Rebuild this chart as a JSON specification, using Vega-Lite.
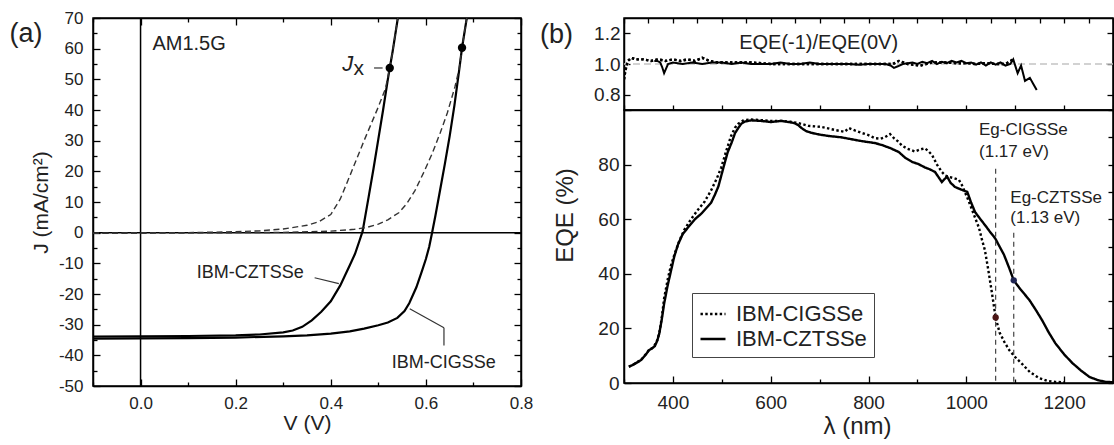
{
  "$schema": "https://vega.github.io/schema/vega-lite/v6.json",
  "background": "white",
  "padding": {"left": 8, "top": 8, "right": 1, "bottom": 1},
  "bounds": "flush",
  "spacing": 103,
  "config": {
    "font": "Liberation Sans",
    "view": {"stroke": "black", "strokeWidth": 1.5},
    "axis": {
      "grid": false, "domainColor": "black", "domainWidth": 1.5,
      "tickColor": "black", "tickWidth": 1.3,
      "labelColor": "#222222", "titleColor": "#222222", "titleFontWeight": "normal",
      "labelFont": "Liberation Sans", "titleFont": "Liberation Sans",
      "labelFlush": false, "labelOverlap": false
    },
    "legend": {"labelFont": "Liberation Sans", "labelColor": "#222222"},
    "text": {"font": "Liberation Sans", "color": "#222222"}
  },
  "datasets": {
    "jv": [
      {"cell": "CZTSSe", "mode": "light", "V": -0.1, "J": -33.9},
      {"cell": "CZTSSe", "mode": "light", "V": 0.0, "J": -33.8},
      {"cell": "CZTSSe", "mode": "light", "V": 0.1, "J": -33.7},
      {"cell": "CZTSSe", "mode": "light", "V": 0.2, "J": -33.5},
      {"cell": "CZTSSe", "mode": "light", "V": 0.25, "J": -33.2},
      {"cell": "CZTSSe", "mode": "light", "V": 0.3, "J": -32.5},
      {"cell": "CZTSSe", "mode": "light", "V": 0.32, "J": -31.9},
      {"cell": "CZTSSe", "mode": "light", "V": 0.34, "J": -30.7},
      {"cell": "CZTSSe", "mode": "light", "V": 0.36, "J": -28.6},
      {"cell": "CZTSSe", "mode": "light", "V": 0.38, "J": -25.8},
      {"cell": "CZTSSe", "mode": "light", "V": 0.4, "J": -22.4},
      {"cell": "CZTSSe", "mode": "light", "V": 0.42, "J": -17.2},
      {"cell": "CZTSSe", "mode": "light", "V": 0.44, "J": -10.6},
      {"cell": "CZTSSe", "mode": "light", "V": 0.451, "J": -6.9},
      {"cell": "CZTSSe", "mode": "light", "V": 0.46, "J": -2.8},
      {"cell": "CZTSSe", "mode": "light", "V": 0.467, "J": 0.5},
      {"cell": "CZTSSe", "mode": "light", "V": 0.48, "J": 12},
      {"cell": "CZTSSe", "mode": "light", "V": 0.49, "J": 21},
      {"cell": "CZTSSe", "mode": "light", "V": 0.5, "J": 30.5},
      {"cell": "CZTSSe", "mode": "light", "V": 0.51, "J": 40},
      {"cell": "CZTSSe", "mode": "light", "V": 0.52, "J": 50},
      {"cell": "CZTSSe", "mode": "light", "V": 0.524, "J": 53.7},
      {"cell": "CZTSSe", "mode": "light", "V": 0.53, "J": 59},
      {"cell": "CZTSSe", "mode": "light", "V": 0.541, "J": 70},
      {"cell": "CZTSSe", "mode": "dark", "V": -0.1, "J": -0.2},
      {"cell": "CZTSSe", "mode": "dark", "V": 0.0, "J": -0.1},
      {"cell": "CZTSSe", "mode": "dark", "V": 0.1, "J": 0},
      {"cell": "CZTSSe", "mode": "dark", "V": 0.2, "J": 0.3},
      {"cell": "CZTSSe", "mode": "dark", "V": 0.25, "J": 0.6},
      {"cell": "CZTSSe", "mode": "dark", "V": 0.3, "J": 1.2},
      {"cell": "CZTSSe", "mode": "dark", "V": 0.35, "J": 2.4},
      {"cell": "CZTSSe", "mode": "dark", "V": 0.375, "J": 3.6},
      {"cell": "CZTSSe", "mode": "dark", "V": 0.4, "J": 5.9},
      {"cell": "CZTSSe", "mode": "dark", "V": 0.42, "J": 11},
      {"cell": "CZTSSe", "mode": "dark", "V": 0.44, "J": 18.5},
      {"cell": "CZTSSe", "mode": "dark", "V": 0.47, "J": 30},
      {"cell": "CZTSSe", "mode": "dark", "V": 0.5, "J": 41},
      {"cell": "CZTSSe", "mode": "dark", "V": 0.515, "J": 47},
      {"cell": "CZTSSe", "mode": "dark", "V": 0.524, "J": 53.7},
      {"cell": "CZTSSe", "mode": "dark", "V": 0.53, "J": 59},
      {"cell": "CZTSSe", "mode": "dark", "V": 0.541, "J": 70},
      {"cell": "CIGSSe", "mode": "light", "V": -0.1, "J": -34.6},
      {"cell": "CIGSSe", "mode": "light", "V": 0.0, "J": -34.5},
      {"cell": "CIGSSe", "mode": "light", "V": 0.1, "J": -34.4},
      {"cell": "CIGSSe", "mode": "light", "V": 0.2, "J": -34.2},
      {"cell": "CIGSSe", "mode": "light", "V": 0.3, "J": -33.8},
      {"cell": "CIGSSe", "mode": "light", "V": 0.35, "J": -33.5},
      {"cell": "CIGSSe", "mode": "light", "V": 0.4, "J": -32.9},
      {"cell": "CIGSSe", "mode": "light", "V": 0.44, "J": -32.2},
      {"cell": "CIGSSe", "mode": "light", "V": 0.47, "J": -31.3},
      {"cell": "CIGSSe", "mode": "light", "V": 0.5, "J": -30.2},
      {"cell": "CIGSSe", "mode": "light", "V": 0.52, "J": -29.3},
      {"cell": "CIGSSe", "mode": "light", "V": 0.54, "J": -27.8},
      {"cell": "CIGSSe", "mode": "light", "V": 0.555, "J": -25.6},
      {"cell": "CIGSSe", "mode": "light", "V": 0.565, "J": -23},
      {"cell": "CIGSSe", "mode": "light", "V": 0.58, "J": -17.8},
      {"cell": "CIGSSe", "mode": "light", "V": 0.592, "J": -12.4},
      {"cell": "CIGSSe", "mode": "light", "V": 0.6, "J": -8.6},
      {"cell": "CIGSSe", "mode": "light", "V": 0.607, "J": -4.6},
      {"cell": "CIGSSe", "mode": "light", "V": 0.613, "J": 0},
      {"cell": "CIGSSe", "mode": "light", "V": 0.62, "J": 5.5},
      {"cell": "CIGSSe", "mode": "light", "V": 0.63, "J": 14},
      {"cell": "CIGSSe", "mode": "light", "V": 0.64, "J": 22.5},
      {"cell": "CIGSSe", "mode": "light", "V": 0.65, "J": 31.5},
      {"cell": "CIGSSe", "mode": "light", "V": 0.66, "J": 41.5},
      {"cell": "CIGSSe", "mode": "light", "V": 0.67, "J": 53},
      {"cell": "CIGSSe", "mode": "light", "V": 0.676, "J": 60.3},
      {"cell": "CIGSSe", "mode": "light", "V": 0.686, "J": 70},
      {"cell": "CIGSSe", "mode": "dark", "V": -0.1, "J": -0.2},
      {"cell": "CIGSSe", "mode": "dark", "V": 0.0, "J": -0.1},
      {"cell": "CIGSSe", "mode": "dark", "V": 0.2, "J": 0},
      {"cell": "CIGSSe", "mode": "dark", "V": 0.3, "J": 0.1},
      {"cell": "CIGSSe", "mode": "dark", "V": 0.4, "J": 0.5},
      {"cell": "CIGSSe", "mode": "dark", "V": 0.45, "J": 1.1},
      {"cell": "CIGSSe", "mode": "dark", "V": 0.475, "J": 1.7},
      {"cell": "CIGSSe", "mode": "dark", "V": 0.5, "J": 2.8},
      {"cell": "CIGSSe", "mode": "dark", "V": 0.52, "J": 4.2},
      {"cell": "CIGSSe", "mode": "dark", "V": 0.543, "J": 6.5},
      {"cell": "CIGSSe", "mode": "dark", "V": 0.56, "J": 9.5},
      {"cell": "CIGSSe", "mode": "dark", "V": 0.577, "J": 13.7},
      {"cell": "CIGSSe", "mode": "dark", "V": 0.595, "J": 19.5},
      {"cell": "CIGSSe", "mode": "dark", "V": 0.613, "J": 25.7},
      {"cell": "CIGSSe", "mode": "dark", "V": 0.63, "J": 32.5},
      {"cell": "CIGSSe", "mode": "dark", "V": 0.645, "J": 39},
      {"cell": "CIGSSe", "mode": "dark", "V": 0.661, "J": 47.5},
      {"cell": "CIGSSe", "mode": "dark", "V": 0.67, "J": 53.5},
      {"cell": "CIGSSe", "mode": "dark", "V": 0.676, "J": 60.3},
      {"cell": "CIGSSe", "mode": "dark", "V": 0.686, "J": 70}
    ],
    "zeroV": [{"V": 0}],
    "zeroJ": [{"J": 0}],
    "leaders": [
      {"V": 0.366, "J": -14.7, "V2": 0.417, "J2": -16.6},
      {"V": 0.566, "J": -24.8, "V2": 0.638, "J2": -31.0},
      {"V": 0.638, "J": -31.0, "V2": 0.638, "J2": -36.8},
      {"V": 0.491, "J": 53.7, "V2": 0.509, "J2": 53.7}
    ],
    "jx": [
      {"V": 0.524, "J": 53.7},
      {"V": 0.676, "J": 60.3}
    ],
    "panelA": [{"V": -0.1, "J": 70, "label": "(a)"}],
    "am": [{"V": 0.025, "J": 61.5, "label": "AM1.5G"}],
    "jxJ": [{"V": 0.447, "J": 52.8, "label": "J"}],
    "jxSub": [{"V": 0.448, "J": 51.5, "label": "x"}],
    "jvText": [
      {"V": 0.118, "J": -13.0, "label": "IBM-CZTSSe"},
      {"V": 0.528, "J": -42.5, "label": "IBM-CIGSSe"}
    ],
    "unity": [{"ratio": 1.0}],
    "panelB": [{"lambda": 300, "ratio": 1.3, "label": "(b)"}],
    "ratio": [
      {"cell": "IBM-CIGSSe", "lambda": 300, "ratio": 0.9},
      {"cell": "IBM-CIGSSe", "lambda": 303, "ratio": 0.96},
      {"cell": "IBM-CIGSSe", "lambda": 308, "ratio": 1.02},
      {"cell": "IBM-CIGSSe", "lambda": 315, "ratio": 1.04},
      {"cell": "IBM-CIGSSe", "lambda": 325, "ratio": 1.03},
      {"cell": "IBM-CIGSSe", "lambda": 340, "ratio": 1.03},
      {"cell": "IBM-CIGSSe", "lambda": 355, "ratio": 1.02},
      {"cell": "IBM-CIGSSe", "lambda": 370, "ratio": 1.03},
      {"cell": "IBM-CIGSSe", "lambda": 385, "ratio": 1.02},
      {"cell": "IBM-CIGSSe", "lambda": 400, "ratio": 1.03},
      {"cell": "IBM-CIGSSe", "lambda": 415, "ratio": 1.02},
      {"cell": "IBM-CIGSSe", "lambda": 430, "ratio": 1.03},
      {"cell": "IBM-CIGSSe", "lambda": 445, "ratio": 1.02},
      {"cell": "IBM-CIGSSe", "lambda": 460, "ratio": 1.04},
      {"cell": "IBM-CIGSSe", "lambda": 475, "ratio": 1.02},
      {"cell": "IBM-CIGSSe", "lambda": 490, "ratio": 1.01},
      {"cell": "IBM-CIGSSe", "lambda": 520, "ratio": 1.01},
      {"cell": "IBM-CIGSSe", "lambda": 560, "ratio": 1.01},
      {"cell": "IBM-CIGSSe", "lambda": 600, "ratio": 1.0},
      {"cell": "IBM-CIGSSe", "lambda": 650, "ratio": 1.0},
      {"cell": "IBM-CIGSSe", "lambda": 700, "ratio": 1.0},
      {"cell": "IBM-CIGSSe", "lambda": 750, "ratio": 1.0},
      {"cell": "IBM-CIGSSe", "lambda": 800, "ratio": 1.0},
      {"cell": "IBM-CIGSSe", "lambda": 850, "ratio": 1.0},
      {"cell": "IBM-CIGSSe", "lambda": 862, "ratio": 1.02},
      {"cell": "IBM-CIGSSe", "lambda": 880, "ratio": 1.0},
      {"cell": "IBM-CIGSSe", "lambda": 906, "ratio": 0.99},
      {"cell": "IBM-CIGSSe", "lambda": 930, "ratio": 1.01},
      {"cell": "IBM-CIGSSe", "lambda": 960, "ratio": 1.01},
      {"cell": "IBM-CIGSSe", "lambda": 980, "ratio": 1.005},
      {"cell": "IBM-CIGSSe", "lambda": 1000, "ratio": 1.005},
      {"cell": "IBM-CIGSSe", "lambda": 1020, "ratio": 1.0},
      {"cell": "IBM-CIGSSe", "lambda": 1040, "ratio": 1.005},
      {"cell": "IBM-CIGSSe", "lambda": 1060, "ratio": 1.0},
      {"cell": "IBM-CIGSSe", "lambda": 1080, "ratio": 1.0},
      {"cell": "IBM-CIGSSe", "lambda": 1096, "ratio": 1.03},
      {"cell": "IBM-CZTSSe", "lambda": 362, "ratio": 1.02},
      {"cell": "IBM-CZTSSe", "lambda": 368, "ratio": 1.02},
      {"cell": "IBM-CZTSSe", "lambda": 374, "ratio": 1.01},
      {"cell": "IBM-CZTSSe", "lambda": 378, "ratio": 0.98},
      {"cell": "IBM-CZTSSe", "lambda": 382, "ratio": 0.94},
      {"cell": "IBM-CZTSSe", "lambda": 386, "ratio": 0.97},
      {"cell": "IBM-CZTSSe", "lambda": 390, "ratio": 1.0},
      {"cell": "IBM-CZTSSe", "lambda": 400, "ratio": 1.01},
      {"cell": "IBM-CZTSSe", "lambda": 420, "ratio": 1.0},
      {"cell": "IBM-CZTSSe", "lambda": 440, "ratio": 1.01},
      {"cell": "IBM-CZTSSe", "lambda": 460, "ratio": 1.0},
      {"cell": "IBM-CZTSSe", "lambda": 480, "ratio": 1.01},
      {"cell": "IBM-CZTSSe", "lambda": 500, "ratio": 1.01},
      {"cell": "IBM-CZTSSe", "lambda": 520, "ratio": 1.0},
      {"cell": "IBM-CZTSSe", "lambda": 540, "ratio": 1.01},
      {"cell": "IBM-CZTSSe", "lambda": 560, "ratio": 1.0},
      {"cell": "IBM-CZTSSe", "lambda": 580, "ratio": 1.0},
      {"cell": "IBM-CZTSSe", "lambda": 600, "ratio": 1.0},
      {"cell": "IBM-CZTSSe", "lambda": 620, "ratio": 1.01},
      {"cell": "IBM-CZTSSe", "lambda": 640, "ratio": 1.0},
      {"cell": "IBM-CZTSSe", "lambda": 660, "ratio": 1.0},
      {"cell": "IBM-CZTSSe", "lambda": 680, "ratio": 1.01},
      {"cell": "IBM-CZTSSe", "lambda": 700, "ratio": 1.0},
      {"cell": "IBM-CZTSSe", "lambda": 720, "ratio": 1.0},
      {"cell": "IBM-CZTSSe", "lambda": 740, "ratio": 1.0},
      {"cell": "IBM-CZTSSe", "lambda": 760, "ratio": 1.0},
      {"cell": "IBM-CZTSSe", "lambda": 780, "ratio": 0.995},
      {"cell": "IBM-CZTSSe", "lambda": 800, "ratio": 1.0},
      {"cell": "IBM-CZTSSe", "lambda": 820, "ratio": 1.0},
      {"cell": "IBM-CZTSSe", "lambda": 835, "ratio": 1.0},
      {"cell": "IBM-CZTSSe", "lambda": 845, "ratio": 0.99},
      {"cell": "IBM-CZTSSe", "lambda": 852, "ratio": 0.975},
      {"cell": "IBM-CZTSSe", "lambda": 860, "ratio": 0.985},
      {"cell": "IBM-CZTSSe", "lambda": 870, "ratio": 1.0},
      {"cell": "IBM-CZTSSe", "lambda": 880, "ratio": 1.005},
      {"cell": "IBM-CZTSSe", "lambda": 890, "ratio": 1.01},
      {"cell": "IBM-CZTSSe", "lambda": 900, "ratio": 1.0},
      {"cell": "IBM-CZTSSe", "lambda": 910, "ratio": 1.015},
      {"cell": "IBM-CZTSSe", "lambda": 920, "ratio": 1.005},
      {"cell": "IBM-CZTSSe", "lambda": 930, "ratio": 1.02},
      {"cell": "IBM-CZTSSe", "lambda": 940, "ratio": 1.0},
      {"cell": "IBM-CZTSSe", "lambda": 950, "ratio": 1.015},
      {"cell": "IBM-CZTSSe", "lambda": 960, "ratio": 1.005},
      {"cell": "IBM-CZTSSe", "lambda": 970, "ratio": 1.02},
      {"cell": "IBM-CZTSSe", "lambda": 980, "ratio": 1.01},
      {"cell": "IBM-CZTSSe", "lambda": 990, "ratio": 1.02},
      {"cell": "IBM-CZTSSe", "lambda": 1000, "ratio": 1.005},
      {"cell": "IBM-CZTSSe", "lambda": 1010, "ratio": 1.01},
      {"cell": "IBM-CZTSSe", "lambda": 1020, "ratio": 0.995},
      {"cell": "IBM-CZTSSe", "lambda": 1030, "ratio": 1.01},
      {"cell": "IBM-CZTSSe", "lambda": 1040, "ratio": 0.99},
      {"cell": "IBM-CZTSSe", "lambda": 1050, "ratio": 1.01},
      {"cell": "IBM-CZTSSe", "lambda": 1060, "ratio": 0.995},
      {"cell": "IBM-CZTSSe", "lambda": 1070, "ratio": 1.01},
      {"cell": "IBM-CZTSSe", "lambda": 1080, "ratio": 0.99},
      {"cell": "IBM-CZTSSe", "lambda": 1090, "ratio": 1.0},
      {"cell": "IBM-CZTSSe", "lambda": 1096, "ratio": 1.03},
      {"cell": "IBM-CZTSSe", "lambda": 1105, "ratio": 0.94},
      {"cell": "IBM-CZTSSe", "lambda": 1112, "ratio": 0.99},
      {"cell": "IBM-CZTSSe", "lambda": 1120, "ratio": 0.89},
      {"cell": "IBM-CZTSSe", "lambda": 1130, "ratio": 0.91},
      {"cell": "IBM-CZTSSe", "lambda": 1137, "ratio": 0.87},
      {"cell": "IBM-CZTSSe", "lambda": 1144, "ratio": 0.83}
    ],
    "ratioText": [
      {"lambda": 698, "ratio": 1.137, "label": "EQE(-1)/EQE(0V)"}
    ],
    "eqe": [
      {"cell": "IBM-CIGSSe", "lambda": 310, "EQE": 6.0},
      {"cell": "IBM-CIGSSe", "lambda": 320, "EQE": 6.9},
      {"cell": "IBM-CIGSSe", "lambda": 335, "EQE": 8.5},
      {"cell": "IBM-CIGSSe", "lambda": 345, "EQE": 10.6},
      {"cell": "IBM-CIGSSe", "lambda": 351, "EQE": 12.1},
      {"cell": "IBM-CIGSSe", "lambda": 360, "EQE": 13},
      {"cell": "IBM-CIGSSe", "lambda": 368, "EQE": 15.6},
      {"cell": "IBM-CIGSSe", "lambda": 373, "EQE": 19},
      {"cell": "IBM-CIGSSe", "lambda": 378, "EQE": 25},
      {"cell": "IBM-CIGSSe", "lambda": 382, "EQE": 31},
      {"cell": "IBM-CIGSSe", "lambda": 390, "EQE": 38.5},
      {"cell": "IBM-CIGSSe", "lambda": 396, "EQE": 43},
      {"cell": "IBM-CIGSSe", "lambda": 403, "EQE": 47},
      {"cell": "IBM-CIGSSe", "lambda": 413, "EQE": 52},
      {"cell": "IBM-CIGSSe", "lambda": 423, "EQE": 56},
      {"cell": "IBM-CIGSSe", "lambda": 437, "EQE": 60},
      {"cell": "IBM-CIGSSe", "lambda": 451, "EQE": 63.4},
      {"cell": "IBM-CIGSSe", "lambda": 465, "EQE": 66.5},
      {"cell": "IBM-CIGSSe", "lambda": 478, "EQE": 70.5},
      {"cell": "IBM-CIGSSe", "lambda": 490, "EQE": 75},
      {"cell": "IBM-CIGSSe", "lambda": 499, "EQE": 79},
      {"cell": "IBM-CIGSSe", "lambda": 509, "EQE": 85},
      {"cell": "IBM-CIGSSe", "lambda": 519, "EQE": 90.5},
      {"cell": "IBM-CIGSSe", "lambda": 527, "EQE": 93.5},
      {"cell": "IBM-CIGSSe", "lambda": 534, "EQE": 95},
      {"cell": "IBM-CIGSSe", "lambda": 545, "EQE": 96.3},
      {"cell": "IBM-CIGSSe", "lambda": 560, "EQE": 96.5},
      {"cell": "IBM-CIGSSe", "lambda": 580, "EQE": 96.3},
      {"cell": "IBM-CIGSSe", "lambda": 600, "EQE": 96},
      {"cell": "IBM-CIGSSe", "lambda": 625, "EQE": 96},
      {"cell": "IBM-CIGSSe", "lambda": 640, "EQE": 95.7},
      {"cell": "IBM-CIGSSe", "lambda": 657, "EQE": 95.2},
      {"cell": "IBM-CIGSSe", "lambda": 677, "EQE": 94.2},
      {"cell": "IBM-CIGSSe", "lambda": 704, "EQE": 93.8},
      {"cell": "IBM-CIGSSe", "lambda": 731, "EQE": 92.7},
      {"cell": "IBM-CIGSSe", "lambda": 751, "EQE": 92},
      {"cell": "IBM-CIGSSe", "lambda": 760, "EQE": 93.4},
      {"cell": "IBM-CIGSSe", "lambda": 772, "EQE": 92.5},
      {"cell": "IBM-CIGSSe", "lambda": 786, "EQE": 91.6},
      {"cell": "IBM-CIGSSe", "lambda": 800, "EQE": 90.8},
      {"cell": "IBM-CIGSSe", "lambda": 813, "EQE": 89.7},
      {"cell": "IBM-CIGSSe", "lambda": 825, "EQE": 89.5},
      {"cell": "IBM-CIGSSe", "lambda": 833, "EQE": 90},
      {"cell": "IBM-CIGSSe", "lambda": 844, "EQE": 91.2},
      {"cell": "IBM-CIGSSe", "lambda": 853, "EQE": 89.5},
      {"cell": "IBM-CIGSSe", "lambda": 862, "EQE": 88.3},
      {"cell": "IBM-CIGSSe", "lambda": 868, "EQE": 87},
      {"cell": "IBM-CIGSSe", "lambda": 880, "EQE": 85.8},
      {"cell": "IBM-CIGSSe", "lambda": 895, "EQE": 84.8},
      {"cell": "IBM-CIGSSe", "lambda": 905, "EQE": 85.5},
      {"cell": "IBM-CIGSSe", "lambda": 915, "EQE": 86},
      {"cell": "IBM-CIGSSe", "lambda": 922, "EQE": 85},
      {"cell": "IBM-CIGSSe", "lambda": 930, "EQE": 83.5},
      {"cell": "IBM-CIGSSe", "lambda": 940, "EQE": 80},
      {"cell": "IBM-CIGSSe", "lambda": 950, "EQE": 77.3},
      {"cell": "IBM-CIGSSe", "lambda": 957, "EQE": 76},
      {"cell": "IBM-CIGSSe", "lambda": 964, "EQE": 75.5},
      {"cell": "IBM-CIGSSe", "lambda": 975, "EQE": 75},
      {"cell": "IBM-CIGSSe", "lambda": 985, "EQE": 74.4},
      {"cell": "IBM-CIGSSe", "lambda": 991, "EQE": 72.5},
      {"cell": "IBM-CIGSSe", "lambda": 997, "EQE": 70},
      {"cell": "IBM-CIGSSe", "lambda": 1003, "EQE": 67.5},
      {"cell": "IBM-CIGSSe", "lambda": 1008, "EQE": 65.2},
      {"cell": "IBM-CIGSSe", "lambda": 1017, "EQE": 61},
      {"cell": "IBM-CIGSSe", "lambda": 1026, "EQE": 56.8},
      {"cell": "IBM-CIGSSe", "lambda": 1032, "EQE": 52.5},
      {"cell": "IBM-CIGSSe", "lambda": 1038, "EQE": 48.7},
      {"cell": "IBM-CIGSSe", "lambda": 1045, "EQE": 41.4},
      {"cell": "IBM-CIGSSe", "lambda": 1052, "EQE": 33.5},
      {"cell": "IBM-CIGSSe", "lambda": 1060, "EQE": 24},
      {"cell": "IBM-CIGSSe", "lambda": 1068, "EQE": 18.5},
      {"cell": "IBM-CIGSSe", "lambda": 1078, "EQE": 15},
      {"cell": "IBM-CIGSSe", "lambda": 1088, "EQE": 12},
      {"cell": "IBM-CIGSSe", "lambda": 1100, "EQE": 9.5},
      {"cell": "IBM-CIGSSe", "lambda": 1114, "EQE": 7},
      {"cell": "IBM-CIGSSe", "lambda": 1130, "EQE": 4},
      {"cell": "IBM-CIGSSe", "lambda": 1149, "EQE": 1.8},
      {"cell": "IBM-CIGSSe", "lambda": 1165, "EQE": 0.8},
      {"cell": "IBM-CIGSSe", "lambda": 1182, "EQE": 0.4},
      {"cell": "IBM-CIGSSe", "lambda": 1200, "EQE": 0.3},
      {"cell": "IBM-CZTSSe", "lambda": 310, "EQE": 5.9},
      {"cell": "IBM-CZTSSe", "lambda": 320, "EQE": 6.8},
      {"cell": "IBM-CZTSSe", "lambda": 335, "EQE": 8.4},
      {"cell": "IBM-CZTSSe", "lambda": 345, "EQE": 10.5},
      {"cell": "IBM-CZTSSe", "lambda": 351, "EQE": 12},
      {"cell": "IBM-CZTSSe", "lambda": 358, "EQE": 12.8},
      {"cell": "IBM-CZTSSe", "lambda": 363, "EQE": 13.5},
      {"cell": "IBM-CZTSSe", "lambda": 368, "EQE": 15.5},
      {"cell": "IBM-CZTSSe", "lambda": 372, "EQE": 18},
      {"cell": "IBM-CZTSSe", "lambda": 377, "EQE": 23},
      {"cell": "IBM-CZTSSe", "lambda": 382, "EQE": 29},
      {"cell": "IBM-CZTSSe", "lambda": 389, "EQE": 35.5},
      {"cell": "IBM-CZTSSe", "lambda": 396, "EQE": 41},
      {"cell": "IBM-CZTSSe", "lambda": 403, "EQE": 46.5},
      {"cell": "IBM-CZTSSe", "lambda": 411, "EQE": 51},
      {"cell": "IBM-CZTSSe", "lambda": 420, "EQE": 54.5},
      {"cell": "IBM-CZTSSe", "lambda": 431, "EQE": 57},
      {"cell": "IBM-CZTSSe", "lambda": 445, "EQE": 60},
      {"cell": "IBM-CZTSSe", "lambda": 458, "EQE": 62},
      {"cell": "IBM-CZTSSe", "lambda": 468, "EQE": 64},
      {"cell": "IBM-CZTSSe", "lambda": 478, "EQE": 66},
      {"cell": "IBM-CZTSSe", "lambda": 486, "EQE": 69},
      {"cell": "IBM-CZTSSe", "lambda": 493, "EQE": 72},
      {"cell": "IBM-CZTSSe", "lambda": 499, "EQE": 76},
      {"cell": "IBM-CZTSSe", "lambda": 505, "EQE": 80},
      {"cell": "IBM-CZTSSe", "lambda": 512, "EQE": 84.5},
      {"cell": "IBM-CZTSSe", "lambda": 520, "EQE": 88},
      {"cell": "IBM-CZTSSe", "lambda": 527, "EQE": 91.5},
      {"cell": "IBM-CZTSSe", "lambda": 534, "EQE": 93.5},
      {"cell": "IBM-CZTSSe", "lambda": 540, "EQE": 95},
      {"cell": "IBM-CZTSSe", "lambda": 548, "EQE": 95.8},
      {"cell": "IBM-CZTSSe", "lambda": 560, "EQE": 96.2},
      {"cell": "IBM-CZTSSe", "lambda": 580, "EQE": 96},
      {"cell": "IBM-CZTSSe", "lambda": 600, "EQE": 95.6},
      {"cell": "IBM-CZTSSe", "lambda": 622, "EQE": 96},
      {"cell": "IBM-CZTSSe", "lambda": 640, "EQE": 95.5},
      {"cell": "IBM-CZTSSe", "lambda": 648, "EQE": 95.2},
      {"cell": "IBM-CZTSSe", "lambda": 656, "EQE": 94.5},
      {"cell": "IBM-CZTSSe", "lambda": 663, "EQE": 93.4},
      {"cell": "IBM-CZTSSe", "lambda": 672, "EQE": 92.3},
      {"cell": "IBM-CZTSSe", "lambda": 684, "EQE": 91.6},
      {"cell": "IBM-CZTSSe", "lambda": 700, "EQE": 91},
      {"cell": "IBM-CZTSSe", "lambda": 718, "EQE": 90.5},
      {"cell": "IBM-CZTSSe", "lambda": 744, "EQE": 90},
      {"cell": "IBM-CZTSSe", "lambda": 765, "EQE": 89.3},
      {"cell": "IBM-CZTSSe", "lambda": 786, "EQE": 88.6},
      {"cell": "IBM-CZTSSe", "lambda": 813, "EQE": 87.9},
      {"cell": "IBM-CZTSSe", "lambda": 827, "EQE": 87.2},
      {"cell": "IBM-CZTSSe", "lambda": 845, "EQE": 86},
      {"cell": "IBM-CZTSSe", "lambda": 862, "EQE": 84.6},
      {"cell": "IBM-CZTSSe", "lambda": 875, "EQE": 82.5},
      {"cell": "IBM-CZTSSe", "lambda": 889, "EQE": 81},
      {"cell": "IBM-CZTSSe", "lambda": 902, "EQE": 80.2},
      {"cell": "IBM-CZTSSe", "lambda": 915, "EQE": 79},
      {"cell": "IBM-CZTSSe", "lambda": 925, "EQE": 78.3},
      {"cell": "IBM-CZTSSe", "lambda": 936, "EQE": 77.3},
      {"cell": "IBM-CZTSSe", "lambda": 944, "EQE": 75.2},
      {"cell": "IBM-CZTSSe", "lambda": 950, "EQE": 73.6},
      {"cell": "IBM-CZTSSe", "lambda": 956, "EQE": 74.8},
      {"cell": "IBM-CZTSSe", "lambda": 961, "EQE": 75.5},
      {"cell": "IBM-CZTSSe", "lambda": 968, "EQE": 73.3},
      {"cell": "IBM-CZTSSe", "lambda": 977, "EQE": 71.8},
      {"cell": "IBM-CZTSSe", "lambda": 990, "EQE": 70.8},
      {"cell": "IBM-CZTSSe", "lambda": 1002, "EQE": 70},
      {"cell": "IBM-CZTSSe", "lambda": 1010, "EQE": 66},
      {"cell": "IBM-CZTSSe", "lambda": 1018, "EQE": 62.6},
      {"cell": "IBM-CZTSSe", "lambda": 1028, "EQE": 60.2},
      {"cell": "IBM-CZTSSe", "lambda": 1038, "EQE": 57.9},
      {"cell": "IBM-CZTSSe", "lambda": 1048, "EQE": 55.5},
      {"cell": "IBM-CZTSSe", "lambda": 1059, "EQE": 53},
      {"cell": "IBM-CZTSSe", "lambda": 1068, "EQE": 50},
      {"cell": "IBM-CZTSSe", "lambda": 1077, "EQE": 47},
      {"cell": "IBM-CZTSSe", "lambda": 1088, "EQE": 42},
      {"cell": "IBM-CZTSSe", "lambda": 1097, "EQE": 37.6},
      {"cell": "IBM-CZTSSe", "lambda": 1110, "EQE": 34.5},
      {"cell": "IBM-CZTSSe", "lambda": 1129, "EQE": 30.4},
      {"cell": "IBM-CZTSSe", "lambda": 1142, "EQE": 26.8},
      {"cell": "IBM-CZTSSe", "lambda": 1155, "EQE": 23},
      {"cell": "IBM-CZTSSe", "lambda": 1168, "EQE": 18.7},
      {"cell": "IBM-CZTSSe", "lambda": 1182, "EQE": 14.6},
      {"cell": "IBM-CZTSSe", "lambda": 1200, "EQE": 10.5},
      {"cell": "IBM-CZTSSe", "lambda": 1217, "EQE": 7.3},
      {"cell": "IBM-CZTSSe", "lambda": 1235, "EQE": 4.5},
      {"cell": "IBM-CZTSSe", "lambda": 1252, "EQE": 2.2},
      {"cell": "IBM-CZTSSe", "lambda": 1270, "EQE": 1.0},
      {"cell": "IBM-CZTSSe", "lambda": 1285, "EQE": 0.4},
      {"cell": "IBM-CZTSSe", "lambda": 1300, "EQE": 0.3}
    ],
    "eg": [
      {"cell": "IBM-CIGSSe", "lambda": 1060, "top": 78.5, "EQE": 24},
      {"cell": "IBM-CZTSSe", "lambda": 1097, "top": 55, "EQE": 37.6}
    ],
    "egText": [
      {"lambda": 1026, "EQE": 92.7, "label": "Eg-CIGSSe"},
      {"lambda": 1026, "EQE": 84.6, "label": "(1.17 eV)"},
      {"lambda": 1090, "EQE": 67.8, "label": "Eg-CZTSSe"},
      {"lambda": 1090, "EQE": 60.4, "label": "(1.13 eV)"}
    ]
  },
  "hconcat": [
    {
      "width": 428,
      "height": 368,
      "resolve": {"axis": {"x": "independent", "y": "independent"}},
      "layer": [
        {
          "data": {"name": "jv"},
          "transform": [{"filter": "datum.mode === 'light'"}],
          "mark": {"type": "line", "color": "black", "strokeWidth": 2.2, "clip": true},
          "encoding": {
            "x": {
              "field": "V", "type": "quantitative",
              "scale": {"domain": [-0.1, 0.8], "nice": false, "zero": false},
              "axis": {
                "orient": "bottom",
                "values": [-0.1, 0, 0.1, 0.2, 0.3, 0.4, 0.5, 0.6, 0.7, 0.8],
                "labelExpr": "round(datum.value*10) % 2 === 0 ? format(datum.value, '.1f') : ''",
                "tickSize": {"condition": {"test": "round(datum.value*10) % 2 === 0", "value": -7}, "value": -4},
                "labelFontSize": {"condition": {"test": "round(datum.value*10) % 2 === 0", "value": 17}, "value": 1},
                "labelPadding": 16, "labelOverlap": false,
                "title": "V (V)", "titleFontSize": 21, "titlePadding": 1
              }
            },
            "y": {
              "field": "J", "type": "quantitative",
              "scale": {"domain": [-50, 70], "nice": false, "zero": false},
              "axis": {
                "orient": "left",
                "values": [-50, -45, -40, -35, -30, -25, -20, -15, -10, -5, 0, 5, 10, 15, 20, 25, 30, 35, 40, 45, 50, 55, 60, 65, 70],
                "labelExpr": "datum.value % 10 === 0 ? '' + datum.value : ''",
                "tickSize": {"condition": {"test": "datum.value % 10 === 0", "value": -7}, "value": -4},
                "labelFontSize": {"condition": {"test": "datum.value % 10 === 0", "value": 17}, "value": 1},
                "labelPadding": 17, "labelOverlap": false,
                "title": "J (mA/cm²)", "titleFontSize": 21, "titlePadding": 7
              }
            },
            "detail": {"field": "cell"}
          }
        },
        {
          "data": {"name": "zeroV"},
          "mark": {"type": "rule", "color": "black", "strokeWidth": 1.5},
          "encoding": {"x": {"field": "V", "type": "quantitative", "axis": null}}
        },
        {
          "data": {"name": "zeroJ"},
          "mark": {"type": "rule", "color": "black", "strokeWidth": 1.5},
          "encoding": {"y": {"field": "J", "type": "quantitative", "axis": null}}
        },
        {
          "data": {"name": "jv"},
          "transform": [{"filter": "datum.mode === 'dark'"}],
          "mark": {"type": "line", "color": "#333333", "strokeWidth": 1.4, "strokeDash": [6, 3.5], "clip": true},
          "encoding": {
            "x": {"field": "V", "type": "quantitative", "axis": null},
            "y": {"field": "J", "type": "quantitative", "axis": null},
            "detail": {"field": "cell"}
          }
        },
        {
          "data": {"name": "leaders"},
          "mark": {"type": "rule", "color": "#333333", "strokeWidth": 1.2},
          "encoding": {
            "x": {"field": "V", "type": "quantitative", "axis": null},
            "y": {"field": "J", "type": "quantitative", "axis": null},
            "x2": {"field": "V2"},
            "y2": {"field": "J2"}
          }
        },
        {
          "data": {"name": "jx"},
          "mark": {"type": "point", "filled": true, "color": "black", "size": 70, "opacity": 1},
          "encoding": {
            "x": {"field": "V", "type": "quantitative", "axis": null},
            "y": {"field": "J", "type": "quantitative", "axis": null}
          }
        },
        {
          "data": {"name": "am"},
          "mark": {"type": "text", "fontSize": 20, "align": "left", "baseline": "middle", "color": "#222222"},
          "encoding": {
            "x": {"field": "V", "type": "quantitative", "axis": null},
            "y": {"field": "J", "type": "quantitative", "axis": null},
            "text": {"field": "label"}
          }
        },
        {
          "data": {"name": "jxJ"},
          "mark": {"type": "text", "fontSize": 22, "fontStyle": "italic", "align": "right", "baseline": "alphabetic", "color": "#222222"},
          "encoding": {
            "x": {"field": "V", "type": "quantitative", "axis": null},
            "y": {"field": "J", "type": "quantitative", "axis": null},
            "text": {"field": "label"}
          }
        },
        {
          "data": {"name": "jxSub"},
          "mark": {"type": "text", "fontSize": 21, "align": "left", "baseline": "alphabetic", "color": "#222222"},
          "encoding": {
            "x": {"field": "V", "type": "quantitative", "axis": null},
            "y": {"field": "J", "type": "quantitative", "axis": null},
            "text": {"field": "label"}
          }
        },
        {
          "data": {"name": "panelA"},
          "mark": {"type": "text", "fontSize": 27, "align": "center", "baseline": "middle", "dx": -67, "dy": 16, "color": "#222222"},
          "encoding": {
            "x": {"field": "V", "type": "quantitative", "axis": null},
            "y": {"field": "J", "type": "quantitative", "axis": null},
            "text": {"field": "label"}
          }
        },
        {
          "data": {"name": "jvText"},
          "mark": {"type": "text", "align": "left", "baseline": "middle", "fontSize": 18, "color": "#222222"},
          "encoding": {
            "x": {
              "field": "V", "type": "quantitative",
              "scale": {"domain": [-0.1, 0.8], "nice": false, "zero": false},
              "axis": {
                "orient": "top", "labels": false, "title": null,
                "values": [-0.1, 0, 0.1, 0.2, 0.3, 0.4, 0.5, 0.6, 0.7, 0.8],
                "tickSize": {"condition": {"test": "round(datum.value*10) % 2 === 0", "value": -7}, "value": -4}
              }
            },
            "y": {
              "field": "J", "type": "quantitative",
              "scale": {"domain": [-50, 70], "nice": false, "zero": false},
              "axis": {
                "orient": "right", "labels": false, "title": null,
                "values": [-50, -45, -40, -35, -30, -25, -20, -15, -10, -5, 0, 5, 10, 15, 20, 25, 30, 35, 40, 45, 50, 55, 60, 65, 70],
                "tickSize": {"condition": {"test": "datum.value % 10 === 0", "value": -7}, "value": -4}
              }
            },
            "text": {"field": "label"}
          }
        }
      ]
    },
    {
      "spacing": 0,
      "bounds": "flush",
      "resolve": {"scale": {"strokeDash": "independent"}, "legend": {"strokeDash": "independent"}},
      "vconcat": [
        {
          "width": 489,
          "height": 92,
          "resolve": {"axis": {"x": "independent", "y": "independent"}},
          "layer": [
            {
              "layer": [
                {
                  "data": {"name": "ratio"},
                  "transform": [{"filter": "datum.cell === 'IBM-CIGSSe'"}],
                  "mark": {"type": "line", "color": "black", "strokeWidth": 2.4, "strokeDash": [2.4, 2.4], "clip": true},
                  "encoding": {
                    "x": {
                      "field": "lambda", "type": "quantitative",
                      "scale": {"domain": [300, 1300], "nice": false, "zero": false},
                      "axis": {
                        "orient": "bottom", "labels": false, "title": null,
                        "values": [300, 350, 400, 450, 500, 550, 600, 650, 700, 750, 800, 850, 900, 950, 1000, 1050, 1100, 1150, 1200, 1250, 1300],
                        "tickSize": -5
                      }
                    },
                    "y": {
                      "field": "ratio", "type": "quantitative",
                      "scale": {"domain": [0.7, 1.3], "nice": false, "zero": false},
                      "axis": {
                        "orient": "left", "values": [0.8, 1.0, 1.2], "format": ".1f",
                        "tickSize": -6, "labelPadding": 10, "labelFontSize": 19, "labelOverlap": false, "title": null
                      }
                    }
                  }
                },
                {
                  "data": {"name": "unity"},
                  "mark": {"type": "rule", "color": "#c4c4c4", "strokeWidth": 1.3, "strokeDash": [7, 4]},
                  "encoding": {"y": {"field": "ratio", "type": "quantitative"}}
                },
                {
                  "data": {"name": "ratio"},
                  "transform": [{"filter": "datum.cell === 'IBM-CIGSSe'"}],
                  "mark": {"type": "line", "color": "black", "strokeWidth": 2.4, "strokeDash": [2.4, 2.4], "clip": true},
                  "encoding": {
                    "x": {"field": "lambda", "type": "quantitative"},
                    "y": {"field": "ratio", "type": "quantitative"}
                  }
                },
                {
                  "data": {"name": "ratio"},
                  "transform": [{"filter": "datum.cell === 'IBM-CZTSSe'"}],
                  "mark": {"type": "line", "color": "black", "strokeWidth": 2, "clip": true},
                  "encoding": {
                    "x": {"field": "lambda", "type": "quantitative"},
                    "y": {"field": "ratio", "type": "quantitative"}
                  }
                },
                {
                  "data": {"name": "panelB"},
                  "mark": {"type": "text", "fontSize": 27, "align": "center", "baseline": "middle", "dx": -67.5, "dy": 17, "color": "#222222"},
                  "encoding": {
                    "x": {"field": "lambda", "type": "quantitative"},
                    "y": {"field": "ratio", "type": "quantitative"},
                    "text": {"field": "label"}
                  }
                }
              ]
            },
            {
              "data": {"name": "ratioText"},
              "mark": {"type": "text", "align": "center", "baseline": "middle", "fontSize": 20, "color": "#222222"},
              "encoding": {
                "x": {
                  "field": "lambda", "type": "quantitative",
                  "scale": {"domain": [300, 1300], "nice": false, "zero": false},
                  "axis": {
                    "orient": "top", "labels": false, "title": null,
                    "values": [300, 350, 400, 450, 500, 550, 600, 650, 700, 750, 800, 850, 900, 950, 1000, 1050, 1100, 1150, 1200, 1250, 1300],
                    "tickSize": -5
                  }
                },
                "y": {
                  "field": "ratio", "type": "quantitative",
                  "scale": {"domain": [0.7, 1.3], "nice": false, "zero": false},
                  "axis": {"orient": "right", "labels": false, "title": null, "values": [0.8, 1.0, 1.2], "tickSize": -6}
                },
                "text": {"field": "label"}
              }
            }
          ]
        },
        {
          "width": 489,
          "height": 273,
          "resolve": {"axis": {"x": "independent", "y": "independent"}},
          "layer": [
            {
              "layer": [
                {
                  "data": {"name": "eqe"},
                  "mark": {"type": "line", "color": "black", "strokeWidth": 2.4, "clip": true},
                  "encoding": {
                    "x": {
                      "field": "lambda", "type": "quantitative",
                      "scale": {"domain": [300, 1300], "nice": false, "zero": false},
                      "axis": {
                        "orient": "bottom",
                        "values": [300, 400, 500, 600, 700, 800, 900, 1000, 1100, 1200, 1300],
                        "labelExpr": "(datum.value/100) % 2 === 0 ? '' + datum.value : ''",
                        "tickSize": {"condition": {"test": "(datum.value/100) % 2 === 0", "value": -7}, "value": -4},
                        "labelFontSize": {"condition": {"test": "(datum.value/100) % 2 === 0", "value": 19}, "value": 1},
                        "labelPadding": 17, "labelOverlap": false,
                        "title": "λ (nm)", "titleFontSize": 24, "titlePadding": 2, "titleX": 233
                      }
                    },
                    "y": {
                      "field": "EQE", "type": "quantitative",
                      "scale": {"domain": [0, 100], "nice": false, "zero": false},
                      "axis": {
                        "orient": "left",
                        "values": [0, 10, 20, 30, 40, 50, 60, 70, 80, 90, 100],
                        "labelExpr": "datum.value % 20 === 0 && datum.value < 100 ? '' + datum.value : ''",
                        "tickSize": {"condition": {"test": "datum.value % 20 === 0", "value": -7}, "value": -4},
                        "labelFontSize": {"condition": {"test": "datum.value % 20 === 0", "value": 19}, "value": 1},
                        "labelPadding": 12, "labelOverlap": false,
                        "title": "EQE (%)", "titleFontSize": 24, "titlePadding": 20, "titleY": 105
                      }
                    },
                    "strokeDash": {
                      "field": "cell", "type": "nominal",
                      "scale": {"domain": ["IBM-CIGSSe", "IBM-CZTSSe"], "range": [[2.4, 2.4], [1, 0]]},
                      "legend": {
                        "orient": "none", "legendX": 68, "legendY": 183, "title": null,
                        "labelFontSize": 22, "symbolType": "stroke", "symbolSize": 625,
                        "symbolStrokeWidth": 2.4, "symbolStrokeColor": "black",
                        "strokeColor": "#444444", "fillColor": "white",
                        "padding": 7, "rowPadding": 0, "labelOffset": 9
                      }
                    }
                  }
                },
                {
                  "data": {"name": "eg"},
                  "mark": {"type": "rule", "color": "#444444", "strokeWidth": 1.2, "strokeDash": [5, 4]},
                  "encoding": {
                    "x": {"field": "lambda", "type": "quantitative"},
                    "y": {"field": "top", "type": "quantitative"},
                    "y2": {"datum": 0}
                  }
                },
                {
                  "data": {"name": "eg"},
                  "mark": {"type": "point", "filled": true, "size": 40, "opacity": 1},
                  "encoding": {
                    "x": {"field": "lambda", "type": "quantitative"},
                    "y": {"field": "EQE", "type": "quantitative"},
                    "color": {
                      "field": "cell", "type": "nominal",
                      "scale": {"domain": ["IBM-CIGSSe", "IBM-CZTSSe"], "range": ["#4a1414", "#1e2452"]},
                      "legend": null
                    }
                  }
                }
              ]
            },
            {
              "data": {"name": "egText"},
              "mark": {"type": "text", "align": "left", "baseline": "middle", "fontSize": 17, "color": "#222222"},
              "encoding": {
                "x": {
                  "field": "lambda", "type": "quantitative",
                  "scale": {"domain": [300, 1300], "nice": false, "zero": false},
                  "axis": {"orient": "top", "labels": false, "ticks": false, "domain": false, "title": null}
                },
                "y": {
                  "field": "EQE", "type": "quantitative",
                  "scale": {"domain": [0, 100], "nice": false, "zero": false},
                  "axis": {
                    "orient": "right", "labels": false, "title": null,
                    "values": [0, 10, 20, 30, 40, 50, 60, 70, 80, 90, 100],
                    "tickSize": -5
                  }
                },
                "text": {"field": "label"}
              }
            }
          ]
        }
      ]
    }
  ]
}
